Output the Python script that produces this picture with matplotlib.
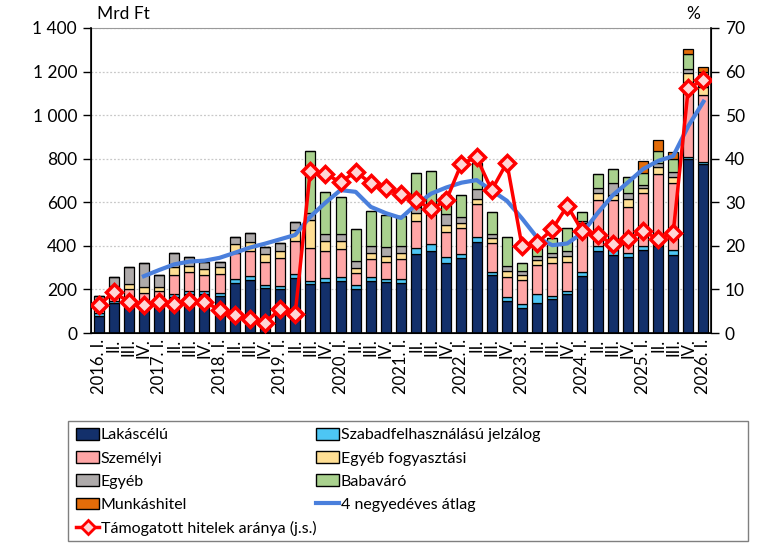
import matplotlib
matplotlib.use("Agg")
import matplotlib.pyplot as plt
from matplotlib.patches import Patch, Rectangle
from matplotlib.lines import Line2D
import numpy as np

plt.rcParams['font.family'] = ['Lato', 'DejaVu Sans']

# quarters 2016 I - 2026 I
years = list(range(2016, 2027))
roman = ["I.", "II.", "III.", "IV."]
quarter_labels = []
for y in years:
    for q in roman:
        if y == 2026 and q != "I.":
            continue
        quarter_labels.append(f"{y}. {q}" if q == "I." else q)

# Mrd Ft
lakascelu = [80, 136, 140, 140, 150, 166, 177, 178, 169, 231, 243, 208, 203, 254, 224, 235,
             239, 202, 240, 233, 231, 363, 376, 322, 343, 419, 266, 147, 113, 139, 155, 179,
             263, 376, 358, 347, 381, 400, 358, 797, 776]
szabad = [12, 11, 10, 10, 10, 14, 15, 14, 15, 17, 19, 12, 13, 15, 15, 19,
          20, 17, 19, 15, 15, 26, 31, 26, 18, 20, 16, 17, 19, 40, 16, 15,
          17, 24, 23, 19, 19, 15, 23, 13, 11]
szemelyi = [42, 63, 54, 32, 33, 84, 89, 74, 89, 121, 116, 107, 127, 153, 150, 122,
            125, 55, 81, 76, 94, 125, 140, 114, 119, 152, 130, 95, 111, 133, 149, 133,
            222, 210, 229, 214, 241, 314, 306, 344, 305]
egyeb_fogy = [9, 4, 20, 29, 16, 40, 28, 27, 31, 38, 41, 34, 33, 51, 130, 46,
              40, 26, 29, 31, 29, 36, 20, 34, 26, 23, 23, 26, 23, 23, 27, 28,
              5, 31, 23, 34, 26, 31, 31, 38, 35]
egyeb = [27, 44, 80, 109, 55, 62, 41, 34, 20, 35, 39, 35, 36, 38, 33, 31,
         29, 30, 30, 38, 30, 30, 25, 50, 25, 46, 19, 23, 19, 20, 19, 21,
         5, 23, 54, 27, 12, 19, 23, 18, 25]
babavaro = [0, 0, 0, 0, 0, 0, 0, 0, 0, 0, 0, 0, 0, 0, 283, 193,
            173, 146, 161, 149, 138, 153, 152, 87, 102, 122, 103, 131, 35, 45, 72, 107,
            42, 64, 64, 77, 54, 58, 56, 69, 44]
munkashitel = [0] * 36 + [58, 49, 35, 23, 24]

atlag = [np.nan, np.nan, np.nan, 261, 289, 315, 328, 332, 345, 368, 392, 410, 430, 450, 534, 598,
         656, 648, 579, 550, 528, 590, 640, 668, 690, 702, 654, 607, 526, 438, 403, 411,
         460, 550, 632, 691, 752, 790, 812, 950, 1062]

# %, right axis
tamogatott = [6.4, 9.3, 7.2, 6.4, 7.2, 6.7, 7.4, 7.2, 5.3, 4.1, 3.2, 2.4, 5.4, 4.3, 37.2, 36.5,
              34.6, 37.0, 34.4, 33.2, 31.9, 30.5, 28.4, 30.5, 38.9, 40.3, 32.8, 39.1, 20.0, 20.6, 23.8, 29.2,
              23.3, 22.5, 20.4, 21.5, 23.5, 21.5, 23.0, 56.2, 58.1]

series = [
    ("Lakáscélú", lakascelu, "#13306b"),
    ("Szabadfelhasználású jelzálog", szabad, "#4dc6f4"),
    ("Személyi", szemelyi, "#ffa6a6"),
    ("Egyéb fogyasztási", egyeb_fogy, "#ffdf94"),
    ("Egyéb", egyeb, "#aeaaaa"),
    ("Babaváró", babavaro, "#a9d18e"),
    ("Munkáshitel", munkashitel, "#e36c09"),
]
colors = {name: col for name, _, col in series}

fig = plt.figure(figsize=(7.64, 5.43), dpi=100)
ax = fig.add_axes([91 / 764, 1 - 333 / 543, 620 / 764, 305 / 543])

x = np.arange(len(quarter_labels))
bottom = np.zeros(len(x))
for name, vals, col in series:
    vals = np.array(vals, dtype=float)
    ax.bar(x, vals, 0.66, bottom=bottom, color=col, edgecolor="black", linewidth=0.9, zorder=2)
    bottom += vals

ax.plot(x, atlag, color="#4a7fdc", lw=3, zorder=3)

ax.set_xlim(-0.5, len(x) - 0.5)
ax.set_ylim(0, 1400)
ax.set_yticks(range(0, 1401, 200))
ax.set_yticklabels([f"{v:,}".replace(",", " ") for v in range(0, 1401, 200)], fontsize=12.5)
ax.grid(axis="y", color="#c8c8c8", linestyle=(0, (1.5, 1.5)), linewidth=0.9, zorder=0)
ax.set_axisbelow(True)
ax.set_xticks(x)
ax.set_xticklabels(quarter_labels, rotation=90, fontsize=12, va="top", ha="center")
ax.tick_params(axis="x", length=0, pad=4)
ax.tick_params(axis="y", direction="out", length=6, width=1, pad=4)
ax.spines["top"].set_color("#9a9a9a")
for s in ["left", "bottom"]:
    ax.spines[s].set_linewidth(1.2)

ax2 = ax.twinx()
ax2.plot(x, tamogatott, color="#ff0000", lw=2.5, marker="D", markersize=8,
         markerfacecolor="#ffd6d6", markeredgecolor="#ff0000", markeredgewidth=2.5, zorder=5)
ax2.set_ylim(0, 70)
ax2.set_yticks(range(0, 71, 10))
ax2.tick_params(axis="y", direction="out", length=6, width=1, labelsize=12.5, pad=4)
ax2.spines["right"].set_linewidth(1.2)
ax2.spines["top"].set_visible(False)

fig.text(97 / 764, 1 - 14 / 543, "Mrd Ft", fontsize=12.5, va="center", ha="left")
fig.text(693 / 764, 1 - 14 / 543, "%", fontsize=12.5, va="center", ha="center")

# legend: two single-column legends inside one drawn frame
def patch(name):
    return Patch(facecolor=colors[name], edgecolor="black", label=name)

col1 = [patch("Lakáscélú"), patch("Személyi"), patch("Egyéb"), patch("Munkáshitel"),
        Line2D([], [], color="#ff0000", lw=2.5, marker="D", markersize=7, markerfacecolor="#ffd6d6",
               markeredgewidth=2, label="Támogatott hitelek aránya (j.s.)")]
col2 = [patch("Szabadfelhasználású jelzálog"), patch("Egyéb fogyasztási"), patch("Babaváró"),
        Line2D([], [], color="#4a7fdc", lw=3, label="4 negyedéves átlag")]

legkw = dict(loc="upper left", fontsize=11.5, frameon=False, handlelength=1.45, handleheight=0.75,
             handletextpad=0.1, labelspacing=0.55, borderpad=0.0, borderaxespad=0.0)
leg1 = fig.legend(handles=col1, bbox_to_anchor=(76 / 764, 1 - 428 / 543), **legkw)
leg2 = fig.legend(handles=col2, bbox_to_anchor=(316 / 764, 1 - 428 / 543), **legkw)
fig.add_artist(Rectangle((68 / 764, 1 - 541 / 543), 680 / 764, 120 / 543, transform=fig.transFigure,
                         fill=False, edgecolor="#7f7f7f", linewidth=1.0))

fig.savefig("out.png", dpi=100)
